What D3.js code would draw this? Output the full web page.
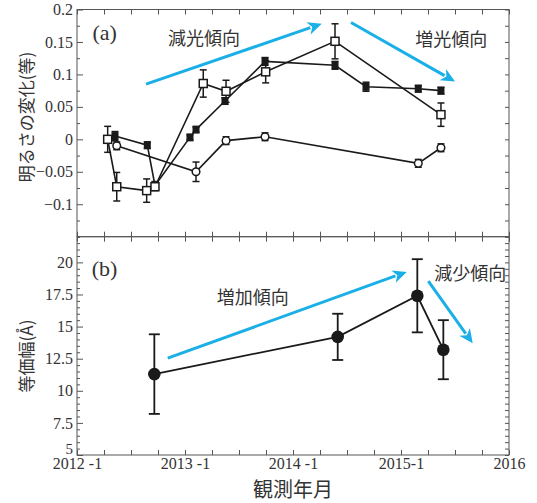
<!DOCTYPE html>
<html><head><meta charset="utf-8">
<script src="https://cdn.jsdelivr.net/npm/d3@7"></script>
<style>body{margin:0;background:#fff}</style>
</head><body>
<svg id="c" width="537" height="503"></svg>
<script>
// ---------- data ----------
const xTickValues = [2012, 2013, 2014, 2015, 2016];
const xTickLabels = ["2012 -1", "2013 -1", "2014 -1", "2015-1", "2016"];
const yTicksA = [-0.1, -0.05, 0, 0.05, 0.1, 0.15, 0.2];
const yTickLabelsA = ["\u22120.1", "\u22120.05", "0", "0.05", "0.1", "0.15", "0.2"];
const yTicksB = [5, 7.5, 10, 12.5, 15, 17.5, 20];
const yTickLabelsB = ["5", "7.5", "10", "12.5", "15", "17.5", "20"];

// open squares
const sqOpenX = [2012.284, 2012.368, 2012.645, 2012.722, 2013.169, 2013.380, 2013.747, 2014.389, 2015.370];
const sqOpenY = [0.000, -0.073, -0.079, -0.073, 0.086, 0.074, 0.104, 0.151, 0.038];
const sqOpenErr = [0.020, 0.022, 0.018, 0.006, 0.021, 0.017, 0.017, 0.027, 0.018];
// filled squares
const sqFillX = [2012.352, 2012.651, 2012.722, 2013.046, 2013.102, 2013.370, 2013.741, 2014.389, 2014.676, 2015.160, 2015.370];
const sqFillY = [0.005, -0.009, -0.071, 0.003, 0.015, 0.059, 0.120, 0.114, 0.081, 0.078, 0.075];
const sqFillErr = [0.007, 0.005, 0.006, 0.004, 0.004, 0.005, 0.006, 0.006, 0.007, 0.005, 0.005];
// open circles
const circX = [2012.368, 2013.102, 2013.380, 2013.741, 2015.160, 2015.370];
const circY = [-0.010, -0.050, -0.002, 0.004, -0.037, -0.013];
const circErr = [0.006, 0.015, 0.006, 0.006, 0.006, 0.006];
// equivalent width
const ewX = [2012.716, 2014.414, 2015.151, 2015.392];
const ewY = [11.3, 14.2, 17.4, 13.2];
const ewErr = [3.1, 1.8, 2.85, 2.3];

// annotations (data coordinates)
const arrowsA = [[2012.639, 0.085, 2014.266, 0.178], [2014.537, 0.180, 2015.50, 0.089]];
const arrowsB = [[2012.840, 12.54, 2015.053, 19.26], [2015.253, 18.54, 2015.664, 13.7]];
const notesA = [["(a)", 2012.256, 0.165, "serif"], ["減光傾向", 2013.176, 0.1576, "cjk"], ["増光傾向", 2015.466, 0.1565, "cjk"]];
const notesB = [["(b)", 2012.255, 19.56, "serif"], ["増加傾向", 2013.628, 17.38, "cjk"], ["減少傾向", 2015.642, 19.27, "cjk"]];

// ---------- drawing ----------
const svg = d3.select("#c");
const L = 77, R = 509, TA = 9.5, MID = 236.7, BB = 455;
const x = d3.scaleLinear().domain([2012, 2016]).range([L, R]);
const yA = d3.scaleLinear().domain([-0.15, 0.2]).range([MID, TA]);
const yB = d3.scaleLinear().domain([5, 22]).range([BB, MID]);
const serif = "'Liberation Serif','Times New Roman',serif";
const cjk = "'Noto Sans CJK JP','Noto Sans CJK SC',sans-serif";
const frame = "#555";
const cyan = "#1aafe6";

const quarters = d3.range(2012, 2016.001, 0.25);

function panel(y, top, bottom, majors, labels, minorStep) {
  const g = svg.append("g");
  g.append("rect").attr("x", L).attr("y", top).attr("width", R - L).attr("height", bottom - top)
    .attr("fill", "none").attr("stroke", frame).attr("stroke-width", 1);
  const dom = y.domain();
  const minors = d3.range(dom[0], dom[1] + 1e-9, minorStep).filter(v => !majors.some(m => Math.abs(m - v) < 1e-9));
  const la = g.append("g").attr("transform", `translate(${L},0)`)
    .call(d3.axisLeft(y).tickValues(majors).tickSize(-6).tickPadding(4)
      .tickFormat((d, i) => labels[i]));
  la.select(".domain").remove();
  la.selectAll("line").attr("stroke", frame);
  la.selectAll("text").attr("font-family", serif).attr("font-size", 16).attr("fill", "#333");
  const lm = g.append("g").attr("transform", `translate(${L},0)`)
    .call(d3.axisLeft(y).tickValues(minors).tickSize(-3).tickFormat(""));
  lm.select(".domain").remove();
  lm.selectAll("line").attr("stroke", frame);
  const ra = g.append("g").attr("transform", `translate(${R},0)`)
    .call(d3.axisRight(y).tickValues(majors.concat(minors)).tickSize(-4).tickFormat(""));
  ra.select(".domain").remove();
  ra.selectAll("line").attr("stroke", frame);
  const ta = g.append("g").attr("transform", `translate(0,${top})`)
    .call(d3.axisTop(x).tickValues(quarters).tickSize(-5).tickFormat(""));
  ta.select(".domain").remove();
  ta.selectAll("line").attr("stroke", frame);
  const ba = g.append("g").attr("transform", `translate(0,${bottom})`)
    .call(d3.axisBottom(x).tickValues(quarters).tickSize(-5).tickFormat(""));
  ba.select(".domain").remove();
  ba.selectAll("line").attr("stroke", frame);
  return la;
}

panel(yA, TA, MID, yTicksA, yTickLabelsA, 0.025);
const laB = panel(yB, MID, BB, yTicksB, yTickLabelsB, 0.5);
// lift the lowest label a little (as in the reference)
laB.selectAll(".tick").filter(d => d === 5).select("text").attr("y", -6).attr("font-size", 15);

// x labels
const xl = svg.append("g").attr("transform", `translate(0,${BB})`)
  .call(d3.axisBottom(x).tickValues(xTickValues).tickSize(0).tickPadding(3)
    .tickFormat((d, i) => xTickLabels[i]));
xl.select(".domain").remove();
xl.selectAll("text").attr("font-family", serif).attr("font-size", 16).attr("fill", "#333");

// axis titles
svg.append("text").attr("x", 293).attr("y", 488).attr("text-anchor", "middle")
  .attr("dominant-baseline", "central").attr("font-family", cjk).attr("font-size", 20)
  .attr("fill", "#333").text("観測年月");
svg.append("text").attr("transform", "translate(25,117) rotate(-90)").attr("text-anchor", "middle")
  .attr("dominant-baseline", "central").attr("font-family", cjk).attr("font-size", 17)
  .attr("fill", "#333").text("明るさの変化(等)");
svg.append("text").attr("transform", "translate(25,356) rotate(-90)").attr("text-anchor", "middle")
  .attr("dominant-baseline", "central").attr("font-family", cjk).attr("font-size", 17)
  .attr("fill", "#333").text("等価幅(Å)");

// arrows
function arrow(sx, sy, ex, ey) {
  const dx = ex - sx, dy = ey - sy, len = Math.hypot(dx, dy);
  const ux = dx / len, uy = dy / len, hl = 14, hw = 6.5;
  const bx = ex - ux * hl, by = ey - uy * hl;
  svg.append("line").attr("x1", sx).attr("y1", sy).attr("x2", bx + ux * 2).attr("y2", by + uy * 2)
    .attr("stroke", cyan).attr("stroke-width", 3);
  svg.append("path").attr("d", `M${ex},${ey}L${bx - uy * hw},${by + ux * hw}L${bx + ux * 4},${by + uy * 4}L${bx + uy * hw},${by - ux * hw}Z`)
    .attr("fill", cyan);
}
arrowsA.forEach(a => arrow(x(a[0]), yA(a[1]), x(a[2]), yA(a[3])));
arrowsB.forEach(a => arrow(x(a[0]), yB(a[1]), x(a[2]), yB(a[3])));

// notes
function note(n, y) {
  svg.append("text").attr("x", x(n[1])).attr("y", y(n[2])).attr("text-anchor", "middle")
    .attr("dominant-baseline", "central")
    .attr("font-family", n[3] === "serif" ? serif : cjk)
    .attr("font-size", n[3] === "serif" ? 22 : 18).attr("fill", "#333").text(n[0]);
}
notesA.forEach(n => note(n, yA));
notesB.forEach(n => note(n, yB));

// series
function zip(xs, ys, es) { return xs.map((v, i) => ({ x: v, y: ys[i], e: es[i] })); }
const sOpen = zip(sqOpenX, sqOpenY, sqOpenErr);
const sFill = zip(sqFillX, sqFillY, sqFillErr);
const sCirc = zip(circX, circY, circErr);
const sEw = zip(ewX, ewY, ewErr);

const lineA = d3.line().x(d => x(d.x)).y(d => yA(d.y));
const lineB = d3.line().x(d => x(d.x)).y(d => yB(d.y));
const ink = "#1a1a1a";

[sCirc, sFill, sOpen].forEach(s => svg.append("path").attr("d", lineA(s))
  .attr("fill", "none").attr("stroke", ink).attr("stroke-width", 1.6));
svg.append("path").attr("d", lineB(sEw)).attr("fill", "none").attr("stroke", ink).attr("stroke-width", 1.8);

function errs(s, y, cap, w) {
  const g = svg.append("g").attr("stroke", ink).attr("stroke-width", w);
  s.forEach(d => {
    const px = x(d.x), t = y(d.y + d.e), b = y(d.y - d.e);
    g.append("line").attr("x1", px).attr("x2", px).attr("y1", t).attr("y2", b);
    g.append("line").attr("x1", px - cap / 2).attr("x2", px + cap / 2).attr("y1", t).attr("y2", t);
    g.append("line").attr("x1", px - cap / 2).attr("x2", px + cap / 2).attr("y1", b).attr("y2", b);
  });
}
errs(sCirc, yA, 7, 1.5);
errs(sFill, yA, 7, 1.5);
errs(sOpen, yA, 7, 1.5);
errs(sEw, yB, 11, 1.8);

// markers
svg.append("g").selectAll("circle").data(sCirc).join("circle")
  .attr("cx", d => x(d.x)).attr("cy", d => yA(d.y)).attr("r", 3.8)
  .attr("fill", "#fff").attr("stroke", ink).attr("stroke-width", 1.5);
svg.append("g").selectAll("rect").data(sFill).join("rect")
  .attr("x", d => x(d.x) - 3.5).attr("y", d => yA(d.y) - 4).attr("width", 7).attr("height", 8)
  .attr("fill", ink);
svg.append("g").selectAll("rect").data(sOpen).join("rect")
  .attr("x", d => x(d.x) - 4).attr("y", d => yA(d.y) - 4).attr("width", 8).attr("height", 8)
  .attr("fill", "#fff").attr("stroke", ink).attr("stroke-width", 1.5);
svg.append("g").selectAll("circle").data(sEw).join("circle")
  .attr("cx", d => x(d.x)).attr("cy", d => yB(d.y)).attr("r", 6.3).attr("fill", ink);
</script>
</body></html>
